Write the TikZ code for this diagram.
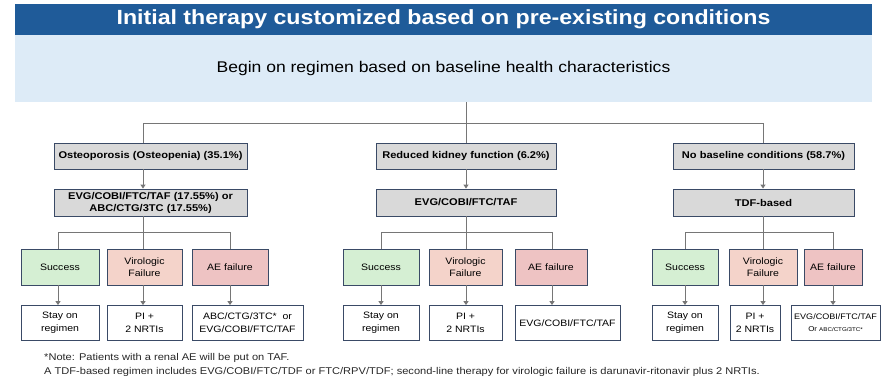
\documentclass[tikz,border=0pt]{standalone}
\usepackage{fontspec}
\setmainfont{Liberation Sans}[FakeStretch=1.13]
\usetikzlibrary{arrows.meta}
\definecolor{titleblue}{HTML}{1F5B99}
\definecolor{lightblue}{HTML}{DDEBF7}
\definecolor{boxgray}{HTML}{D9D9D9}
\definecolor{edge}{HTML}{3A4A66}
\definecolor{sucgreen}{HTML}{D5EFD3}
\definecolor{virpink}{HTML}{F4D3CA}
\definecolor{aepink}{HTML}{EEC3C3}
\definecolor{lin}{HTML}{767676}
\begin{document}
\begin{tikzpicture}[x=1pt,y=-1pt,
 every node/.style={inner sep=0pt, align=center},
 catbox/.style={draw=edge, line width=0.9pt, fill=boxgray, font=\bfseries\fontsize{9.8}{12}\selectfont, minimum height=26pt},
 regbox/.style={catbox, minimum height=27pt},
 outbox/.style={draw=edge, line width=0.9pt, font=\fontsize{9.3}{12}\selectfont, minimum height=36pt},
 sucbox/.style={outbox, fill=sucgreen},
 virbox/.style={outbox, fill=virpink},
 aebox/.style={outbox, fill=aepink},
 resbox/.style={draw=edge, line width=0.9pt, fill=white, font=\fontsize{9.3}{13}\selectfont, minimum height=35pt},
 conn/.style={draw=lin, line width=1pt},
 arr/.style={conn, -{Triangle[width=5pt,length=4pt]}},
 note/.style={anchor=west, font=\fontsize{9.8}{11}\selectfont, text=black!85}
]
\useasboundingbox (0,0) rectangle (886,381);

% header
\node[fill=titleblue, minimum width=857pt, minimum height=31pt, text=white,
      font=\bfseries\fontsize{20.5}{24}\selectfont] (title) at (443.5,19.5)
      {Initial therapy customized based on pre-existing conditions};
\node[fill=lightblue, minimum width=857pt, minimum height=67pt,
      font=\fontsize{15.5}{18}\selectfont] (begin) at (443.5,68.5)
      {Begin on regimen based on baseline health characteristics};

% condition boxes
\node[catbox, minimum width=193pt] (osteo) at (150.5,156) {Osteoporosis (Osteopenia) (35.1\%)};
\node[catbox, minimum width=180pt] (red) at (466,156) {Reduced kidney function (6.2\%)};
\node[catbox, minimum width=181pt] (nob) at (763.5,156) {No baseline conditions (58.7\%)};

% regimen boxes
\node[regbox, minimum width=193pt] (oreg) at (150.5,202.5) {EVG/COBI/FTC/TAF (17.55\%) or\\ABC/CTG/3TC (17.55\%)};
\node[regbox, minimum width=180pt] (mreg) at (466,202.5) {EVG/COBI/FTC/TAF};
\node[regbox, minimum width=181pt] (rreg) at (763.5,202.5) {TDF-based};

% outcome boxes
\node[sucbox, minimum width=78pt] (lsuc) at (60,267) {Success};
\node[virbox, minimum width=75pt] (lvir) at (144.5,267) {Virologic\\Failure};
\node[aebox, minimum width=76pt] (lae) at (230,267) {AE failure};
\node[sucbox, minimum width=76pt] (msuc) at (381,267) {Success};
\node[virbox, minimum width=73pt] (mvir) at (465.5,267) {Virologic\\Failure};
\node[aebox, minimum width=72pt] (mae) at (551,267) {AE failure};
\node[sucbox, minimum width=66pt] (rsuc) at (685,267) {Success};
\node[virbox, minimum width=68pt] (rvir) at (763,267) {Virologic\\Failure};
\node[aebox, minimum width=58pt] (rae) at (833,267) {AE failure};

% result boxes
\node[resbox, minimum width=78pt] (lstay) at (60,323) {Stay on\\regimen};
\node[resbox, minimum width=75pt] (lpi) at (144.5,323) {PI +\\2 NRTIs};
\node[resbox, minimum width=111pt] (labc) at (247.5,323) {ABC/CTG/3TC*\ \ or\\EVG/COBI/FTC/TAF};
\node[resbox, minimum width=76pt] (mstay) at (381,323) {Stay on\\regimen};
\node[resbox, minimum width=73pt] (mpi) at (465.5,323) {PI +\\2 NRTIs};
\node[resbox, minimum width=105pt] (mevg) at (567.5,323) {EVG/COBI/FTC/TAF};
\node[resbox, minimum width=66pt] (rstay) at (685,323) {Stay on\\regimen};
\node[resbox, minimum width=50pt] (rpi) at (755,323) {PI +\\2 NRTIs};
\node[resbox, minimum width=89pt] (revg) at (835.5,323)
  {{\fontsize{8}{10}\selectfont EVG/COBI/FTC/TAF}\\[-1pt]{\fontsize{7}{9}\selectfont Or }{\fontsize{5.5}{9}\selectfont ABC/CTG/3TC*}};

% top connectors
\coordinate (tm) at (466,123);
\coordinate (tl) at (143,123);
\coordinate (tr) at (763,123);
\draw[conn] (begin.south -| tm) -- (red.north -| tm);
\draw[conn] (osteo.north -| tl) -- (tl) -- (tr) -- (nob.north -| tr);

% condition -> regimen
\draw[arr] (osteo.south -| tl) -- (oreg.north -| tl);
\draw[arr] (red.south -| tm) -- (mreg.north -| tm);
\draw[arr] (nob.south -| tr) -- (rreg.north -| tr);

% regimen -> outcomes
\coordinate (l1) at (58,232); \coordinate (l2) at (143,232); \coordinate (l3) at (230,232);
\coordinate (m1) at (381,232); \coordinate (m2) at (466,232); \coordinate (m3) at (552,232);
\coordinate (r1) at (685,232); \coordinate (r2) at (763,232); \coordinate (r3) at (833,232);
\draw[conn] (oreg.south -| l2) -- (lvir.north -| l2);
\draw[conn] (lsuc.north -| l1) -- (l1) -- (l3) -- (lae.north -| l3);
\draw[conn] (mreg.south -| m2) -- (mvir.north -| m2);
\draw[conn] (msuc.north -| m1) -- (m1) -- (m3) -- (mae.north -| m3);
\draw[conn] (rreg.south -| r2) -- (rvir.north -| r2);
\draw[conn] (rsuc.north -| r1) -- (r1) -- (r3) -- (rae.north -| r3);

% outcomes -> results
\draw[arr] (lsuc.south -| l1) -- (lstay.north -| l1);
\draw[arr] (lvir.south -| l2) -- (lpi.north -| l2);
\draw[arr] (lae.south -| l3) -- (labc.north -| l3);
\draw[arr] (msuc.south -| m1) -- (mstay.north -| m1);
\draw[arr] (mvir.south -| m2) -- (mpi.north -| m2);
\draw[arr] (mae.south -| m3) -- (mevg.north -| m3);
\draw[arr] (rsuc.south -| r1) -- (rstay.north -| r1);
\draw[arr] (rvir.south -| r2) -- (rpi.north -| r2);
\draw[arr] (rae.south -| r3) -- (revg.north -| r3);

% notes
\node[note] (n1) at (44,358) {*Note: Patients with a renal AE will be put on TAF.};
\node[note] (n2) at (44,372) {A TDF-based regimen includes EVG/COBI/FTC/TDF or FTC/RPV/TDF; second-line therapy for virologic failure is darunavir-ritonavir plus 2 NRTIs.};
\end{tikzpicture}
\end{document}
